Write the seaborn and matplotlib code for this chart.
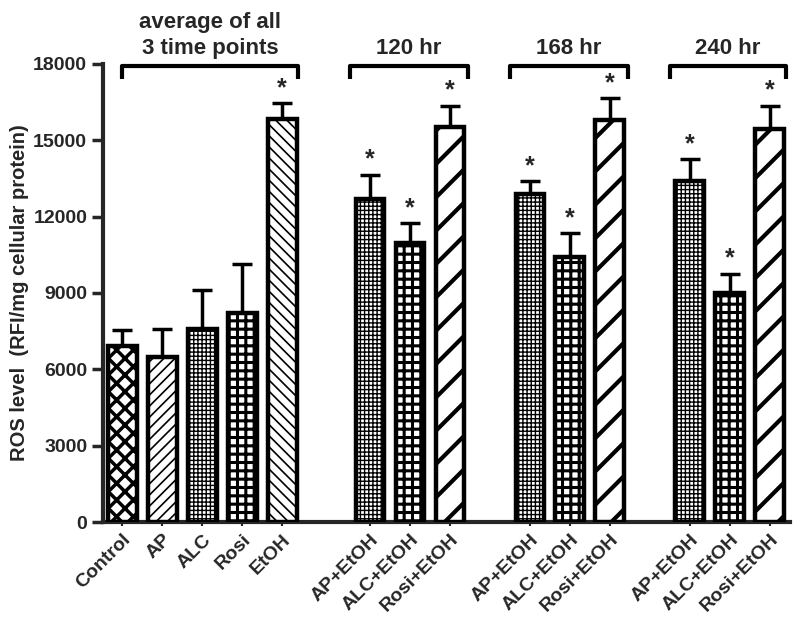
import matplotlib
matplotlib.use('Agg')
import matplotlib.pyplot as plt
import seaborn as sns
import numpy as np
import pandas as pd

labels = ['Control', 'AP', 'ALC', 'Rosi', 'EtOH',
          'AP+EtOH', 'ALC+EtOH', 'Rosi+EtOH',
          'AP+EtOH', 'ALC+EtOH', 'Rosi+EtOH',
          'AP+EtOH', 'ALC+EtOH', 'Rosi+EtOH']
positions = [0, 1, 2, 3, 4, 6.2, 7.2, 8.2, 10.2, 11.2, 12.2, 14.2, 15.2, 16.2]
means = [6900, 6500, 7600, 8200, 15850,
         12700, 10950, 15500,
         12900, 10400, 15800,
         13400, 9000, 15450]
errs = [650, 1100, 1500, 1950, 600,
        950, 800, 850,
        500, 950, 850,
        850, 750, 900]
signif = [False, False, False, False, True,
          True, True, True, True, True, True, True, True, True]

group_titles = ['average of all\n3 time points', '120 hr', '168 hr', '240 hr']
group_spans = [(0.0, 4.4), (5.7, 8.65), (9.7, 12.65), (13.7, 16.6)]

# hatch style per bar: (pattern, hatch linewidth)
hatches = [('xx', 2.5), ('///', 1.2), ('++++', 1.0), ('++', 2.2), ('\\\\\\', 1.2),
           ('++++', 1.0), ('++', 2.2), ('/', 3.0),
           ('++++', 1.0), ('++', 2.2), ('/', 3.0),
           ('++++', 1.0), ('++', 2.2), ('/', 3.0)]

sns.set_style('ticks')
plt.rcParams['font.family'] = ['Liberation Sans', 'DejaVu Sans']
plt.rcParams['font.weight'] = 'bold'

df = pd.DataFrame({'pos': positions, 'value': means})

fig = plt.figure(figsize=(8, 6.2), dpi=100)
ax = fig.add_axes([0.129, 0.158, 0.858, 0.739])

sns.barplot(data=df, x='pos', y='value', native_scale=True, width=0.72,
            color='white', edgecolor='black', linewidth=3.2, errorbar=None,
            saturation=1, ax=ax)

for patch, (h, lw) in zip(ax.patches, hatches):
    patch.set_facecolor('white')
    patch.set_hatch(h)
    if hasattr(patch, 'set_hatch_linewidth'):
        patch.set_hatch_linewidth(lw)
    patch.set_zorder(3)

ax.errorbar(positions, means, yerr=[np.zeros(len(errs)), errs], fmt='none',
            ecolor='black', elinewidth=2.5, capsize=7, capthick=2.5, zorder=2)

for x, m, e, s in zip(positions, means, errs, signif):
    if s:
        ax.text(x, m + e + 120, '*', ha='center', va='bottom',
                fontsize=18, fontweight='bold')

for (x0, x1), t in zip(group_spans, group_titles):
    ax.plot([x0, x0, x1, x1], [17400, 17900, 17900, 17400], color='black',
            lw=3, clip_on=False, solid_capstyle='butt', zorder=4)
    ax.text((x0 + x1) / 2, 18200, t, ha='center', va='bottom', fontsize=16,
            fontweight='bold', linespacing=1.3)

ax.set_ylim(0, 18000)
ax.set_xlim(-0.48, 16.7)
ax.set_yticks([0, 3000, 6000, 9000, 12000, 15000, 18000])
ax.set_xticks(positions)
ax.set_xticklabels(labels, rotation=45, ha='right', rotation_mode='anchor',
                   fontsize=14, fontweight='bold')
ax.tick_params(axis='y', labelsize=14, width=2.5, length=8)
ax.tick_params(axis='x', width=1.5, length=3)
ax.set_xlabel('')
ax.set_ylabel('ROS level  (RFI/mg cellular protein)', fontsize=14.5,
              fontweight='bold', labelpad=3)
for lab in ax.get_yticklabels():
    lab.set_fontweight('bold')

sns.despine(ax=ax)
ax.spines['left'].set_linewidth(3)
ax.spines['bottom'].set_linewidth(3)

fig.savefig('out.png', dpi=100)
